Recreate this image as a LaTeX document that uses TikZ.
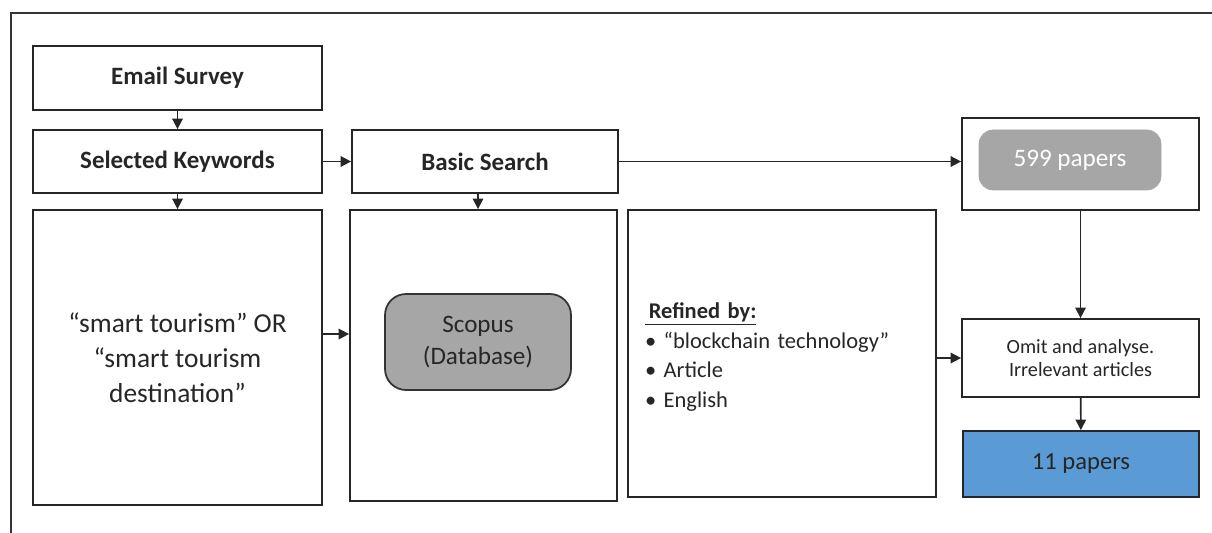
\documentclass[tikz,border=0pt]{standalone}
\usepackage{fontspec}
\setmainfont{Carlito}
\usetikzlibrary{arrows.meta}

\definecolor{txtgray}{HTML}{262626}
\definecolor{boxgray}{HTML}{A6A6A6}
\definecolor{paperblue}{HTML}{5B9BD5}

\begin{document}
\begin{tikzpicture}[x=0.02cm,y=-0.02cm,
    every node/.style={text=txtgray},
    stagebox/.style={draw=black!85,line width=1pt,inner sep=0pt},
    flow/.style={-{Triangle[length=6pt,width=6pt]},line width=0.9pt,black!85}]
  \useasboundingbox (0,0) rectangle (1212,533);
  % outer frame
  \draw[line width=1pt,black!80] (11,533) -- (11,13) -- (1212,13);

  % left column
  \node[stagebox,minimum width=289*0.02cm,minimum height=64*0.02cm,font=\fontsize{14.2}{17}\selectfont\bfseries]
    (email) at (177.5,78) {\raisebox{-1pt}{Email Survey}};
  \node[stagebox,minimum width=289*0.02cm,minimum height=63*0.02cm,font=\fontsize{14.2}{17}\selectfont\bfseries]
    (keys) at (177.5,161.5) {Selected Keywords};
  \node[stagebox,minimum width=289*0.02cm,minimum height=295*0.02cm,align=center,font=\fontsize{15.6}{20}\selectfont]
    (terms) at (177.5,357.5) {“smart tourism” OR\\“smart tourism\\destination”};

  % second column
  \node[stagebox,minimum width=266*0.02cm,minimum height=63*0.02cm,font=\fontsize{14.2}{17}\selectfont\bfseries]
    (basic) at (485,161.5) {Basic Search};
  \node[stagebox,minimum width=267*0.02cm,minimum height=291*0.02cm] (scopusbox) at (483.5,355.5) {};
  \node[draw=black!80,line width=1pt,fill=boxgray,rounded corners=12pt,minimum width=186*0.02cm,
    minimum height=96*0.02cm,align=center,font=\fontsize{14.3}{18}\selectfont]
    (scopus) at (478,342) {Scopus\\(Database)};

  % third column
  \node[stagebox,minimum width=308*0.02cm,minimum height=287*0.02cm] (refined) at (782,353.5) {};
  \node[text width=274*0.02cm,align=left,font=\fontsize{12.8}{16.8}\selectfont]
    (refinedtext) at (782,357) {\underline{\textbf{\,Refined by:}}\\• “blockchain technology”\\• Article\\• English};

  % right column
  \node[stagebox,minimum width=237*0.02cm,minimum height=92*0.02cm] (outbox) at (1080.5,164) {};
  \node[draw=black!35,fill=boxgray,rounded corners=8pt,minimum width=182*0.02cm,minimum height=60*0.02cm,
    text=white,font=\fontsize{14.3}{17}\selectfont] (found) at (1070,160) {599 papers};
  \node[stagebox,minimum width=237*0.02cm,minimum height=78*0.02cm,align=center,font=\fontsize{11.5}{13.5}\selectfont]
    (omit) at (1080.5,358) {Omit and analyse.\\Irrelevant articles};
  \node[stagebox,fill=paperblue,minimum width=236*0.02cm,minimum height=66*0.02cm,font=\fontsize{14}{17}\selectfont]
    (final) at (1081,464) {11 papers};

  % connectors
  \draw[flow] (email) -- (keys);
  \draw[flow] (keys) -- (terms);
  \draw[flow] (keys) -- (basic);
  \draw[flow] (basic.south -| scopus) -- (scopusbox.north -| scopus);
  \draw[flow] (basic.east) -- (basic.east -| outbox.west);
  \draw[flow] ([yshift=0.16cm]terms.east |- scopus) -- ([yshift=0.16cm]scopusbox.west |- scopus);
  \draw[flow] (refined.east |- omit) -- (omit.west);
  \draw[flow] (outbox) -- (omit);
  \draw[flow] (omit) -- (final);
\end{tikzpicture}
\end{document}
